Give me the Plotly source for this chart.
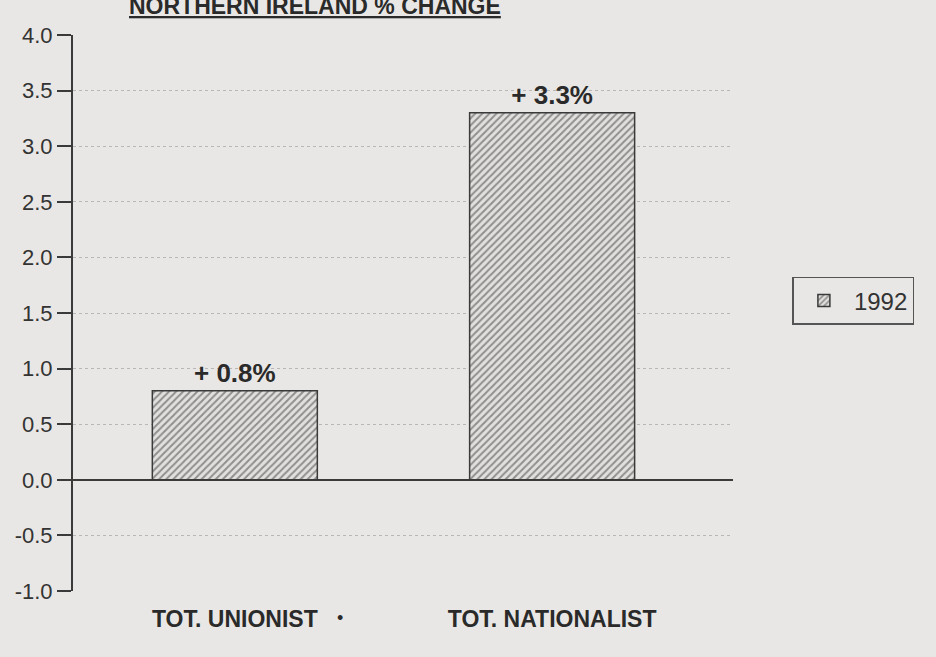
import plotly.graph_objects as go

# Data
categories = ["TOT. UNIONIST", "TOT. NATIONALIST"]
values_1992 = [0.8, 3.3]
series_name = "1992"
y_ticks = [-1.0, -0.5, 0.0, 0.5, 1.0, 1.5, 2.0, 2.5, 3.0, 3.5, 4.0]
title_text = "NORTHERN IRELAND % CHANGE"

ink = "#3a3a3a"
paper = "#e9e7e5"
font_family = "Liberation Sans, Arial, sans-serif"

fig = go.Figure()
fig.add_trace(go.Bar(
    x=categories,
    y=values_1992,
    name=series_name,
    width=0.52,
    marker=dict(
        color="#d8d6d4",
        line=dict(color=ink, width=1.5),
        pattern=dict(shape="/", fgcolor="#3c3c3c", bgcolor="#e2e0de",
                     size=5, solidity=0.4),
    ),
    text=[f"+ {v:.1f}%" for v in values_1992],
    textposition="outside",
    textfont=dict(family=font_family, size=26, color="#2a2a2a", weight="bold"),
    cliponaxis=False,
    showlegend=True,
))

fig.update_layout(
    width=936, height=657,
    margin=dict(l=73, r=203, t=35, b=66),
    paper_bgcolor=paper,
    plot_bgcolor=paper,
    font=dict(family=font_family, color=ink),
    bargap=0.48,
    xaxis=dict(
        range=[-0.51, 1.57],
        showline=False, showgrid=False, zeroline=False,
        ticks="",
        tickfont=dict(size=23, color="#2a2a2a", weight="bold"),
        ticklabelstandoff=12,
    ),
    yaxis=dict(
        range=[-1.0, 4.0],
        tickvals=y_ticks,
        ticktext=[f"{v:.1f}" for v in y_ticks],
        tickfont=dict(size=22, color="#333333"),
        ticks="outside", ticklen=14, tickwidth=2, tickcolor=ink,
        ticklabelstandoff=0,
        showline=True, linecolor=ink, linewidth=2,
        showgrid=True, gridcolor="#b9b7b5", griddash="dot", gridwidth=1,
        zeroline=True, zerolinecolor=ink, zerolinewidth=2,
    ),
    legend=dict(
        x=1.09, y=0.565, xanchor="left", yanchor="top",
        bordercolor="#555555", borderwidth=1.5, bgcolor="rgba(0,0,0,0)",
        font=dict(size=24, color="#333333"),
        itemwidth=50,
        entrywidth=125,
    ),
    annotations=[
        dict(
            text=f"<b><u>{title_text}</u></b>",
            xref="paper", yref="paper", x=0.367, y=1.052,
            xanchor="center", yanchor="middle", showarrow=False,
            font=dict(size=23, color="#2a2a2a"),
        ),
        dict(
            text="•", xref="paper", yref="paper", x=0.405, y=-0.048,
            xanchor="center", yanchor="middle", showarrow=False,
            font=dict(size=18, color="#2a2a2a"),
        ),
    ],
)

fig.write_html("out.html")
